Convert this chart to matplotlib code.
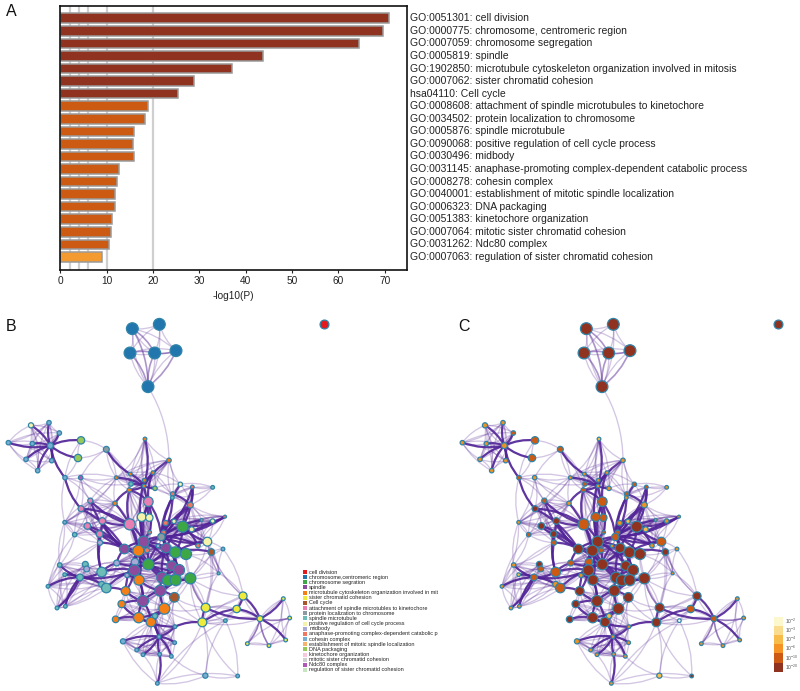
import numpy as np
import matplotlib
matplotlib.use("Agg")
import matplotlib.pyplot as plt
from matplotlib.path import Path
from matplotlib.collections import PathCollection
from matplotlib.patches import Rectangle

plt.rcParams['font.family'] = ['Liberation Sans', 'DejaVu Sans']
plt.rcParams['mathtext.default'] = 'regular'

# ---------- panel A data ----------
terms = ["GO:0051301: cell division", "GO:0000775: chromosome, centromeric region",
         "GO:0007059: chromosome segregation", "GO:0005819: spindle",
         "GO:1902850: microtubule cytoskeleton organization involved in mitosis",
         "GO:0007062: sister chromatid cohesion", "hsa04110: Cell cycle",
         "GO:0008608: attachment of spindle microtubules to kinetochore",
         "GO:0034502: protein localization to chromosome", "GO:0005876: spindle microtubule",
         "GO:0090068: positive regulation of cell cycle process", "GO:0030496: midbody",
         "GO:0031145: anaphase-promoting complex-dependent catabolic process",
         "GO:0008278: cohesin complex", "GO:0040001: establishment of mitotic spindle localization",
         "GO:0006323: DNA packaging", "GO:0051383: kinetochore organization",
         "GO:0007064: mitotic sister chromatid cohesion", "GO:0031262: Ndc80 complex",
         "GO:0007063: regulation of sister chromatid cohesion"]
log_p = [71.0, 69.6, 64.4, 43.8, 37.0, 28.8, 25.5, 18.9, 18.3, 16.0,
         15.7, 15.8, 12.7, 12.2, 11.8, 11.8, 11.2, 10.9, 10.6, 8.9]
bar_level = [5]*7 + [4]*12 + [3]
grid_at = [2, 4, 6, 10, 20]

# ---------- panel B / C legend data ----------
legend_names = ["cell division", "chromosome,centromeric region", "chromosome segration", "spindle",
                "microtubule cytoskeleton organization involved in mit", "sister chromatid cohesion",
                "Cell cycle", "attachment of spindle microtubles to kinetochore",
                "protein localization to chromosome", "spindle microtubule",
                "positive regulation of cell cycle process", "midbody",
                "anaphase-promoting complex-dependent catabolic p", "cohesin complex",
                "establishment of mitotic spindle localization", "DNA packaging",
                "kinetochore organization", "mitotic sister chromatid cohesion",
                "Ndc80 complex", "regulation of sister chromatid cohesion"]
group_colors = ['#e41a1c', '#2176ae', '#3ea745', '#8e4a9c', '#f57f17', '#eeeb3c', '#a8562a',
                '#e77fb3', '#8d9ba0', '#6ebcb8', '#f5f2ab', '#a9a9d8', '#f07860', '#77aed2',
                '#f7b26c', '#97c85a', '#f8c8dc', '#d0d0d0', '#b058b8', '#c7e5bf']
level_colors = {0: '#ffffff', 1: '#f9dc8e', 2: '#f7bc4a', 3: '#ef921f', 4: '#cc5a12', 5: '#8f3320'}
scale_labels = ['10$^{-2}$', '10$^{-3}$', '10$^{-4}$', '10$^{-6}$', '10$^{-10}$', '10$^{-20}$']
scale_colors = ['#fdf7cd', '#f9dc8e', '#f7bc4a', '#f59324', '#cc5a12', '#8f3320']

# ---------- network nodes (positions at 3x picture scale) ----------
upper_x = [397,478,390,464,528,444,93,147,178,25,97,151,78,155,113,243,234,319,195,242,
           435,507,391,459,349,433,393,432,465,388,541,577,638,518,517]
upper_y = [56,43,129,129,122,230,346,338,369,398,401,407,448,452,482,391,444,418,503,503,
           387,451,492,488,503,511,522,528,535,540,523,531,532,552,563]
upper_r = [16,16,16,16,16,16,7,6,6,6,6,8,6,6,6,10,10,8,6,6,5,6,5,5,5,5,6,5,6,6,6,5,5,6,5]
upper_group = [1,1,1,1,1,1,10,13,13,13,13,13,13,13,13,15,15,8,13,18,
               4,4,4,4,4,4,9,4,15,4,10,12,9,12,9]
upper_level = [5,5,5,5,5,5,3,3,4,3,3,3,3,3,3,4,4,4,4,3,2,3,3,3,3,3,4,3,3,4,4,4,3,4,3]

lower_x = [445,271,243,345,194,307,262,389,425,448,299,224,300,497,522,571,675,605,638,548,
           575,491,449,484,622,594,634,669,431,373,415,441,474,498,526,558,445,405,350,403,
           515,537,256,260,305,179,194,240,144,171,196,305,319,381,417,487,504,527,571,656,
           481,377,523,429,365,493,617,729,710,850,780,869,857,807,742,676,607,347,416,453,
           465,525,477,369,524,410,429,479,514,616,713,472]
lower_y = [65,62,86,70,127,123,138,133,111,113,162,164,188,129,124,75,110,120,123,140,
           148,157,157,171,185,197,216,207,185,207,212,211,198,204,217,222,253,246,249,271,
           257,270,253,267,276,255,284,292,319,384,379,313,324,286,300,293,301,300,295,280,
           332,333,352,363,372,386,383,348,387,356,416,414,480,497,491,422,427,418,413,426,
           408,440,470,484,488,510,524,523,529,587,588,610]
lower_r = [13,7,8,6,5,9,9,15,12,10,9,6,7,7,6,8,4,4,6,15,7,6,5,10,12,6,9,5,15,13,15,7,5,13,15,15,15,
           10,8,15,13,15,8,8,13,6,5,9,5,5,5,8,13,6,14,15,15,15,15,4,15,12,13,15,10,15,12,11,10,5,8,5,5,5,5,
           5,12,9,14,13,7,5,5,7,5,5,5,5,5,7,5,5]
lower_group = [7,7,7,4,13,7,7,7,10,10,7,9,11,12,10,12,12,12,10,2,10,12,12,8,10,12,6,13,3,3,4,12,11,3,2,2,2,
               11,11,3,3,3,9,11,9,9,9,9,9,9,9,9,9,11,4,3,2,2,2,9,3,4,6,3,4,4,5,5,5,5,5,5,5,5,5,
               9,5,4,4,4,9,13,13,13,13,13,13,13,13,13,13,13]
lower_level = [4,4,5,3,3,5,5,4,4,4,5,4,4,3,2,3,3,3,3,5,2,4,4,4,4,3,5,3,5,5,5,4,3,5,5,5,5,
               4,4,5,5,5,5,4,4,3,2,4,3,3,3,3,4,3,5,5,5,5,5,3,5,5,5,5,5,5,5,5,4,3,4,3,3,3,3,
               0,5,5,5,5,2,3,3,3,3,3,3,3,3,2,5,3]
upper_offset = 930
lower_offset = 1440
panel_c_shift = 1362
lone_x, lone_y, lone_r = [972], [972], [12]

# ---------- network edges ----------
light_groups = [
    [0,1,2,3,4,5], [6,7,8,9,10,11,12,13,14], [11,15,16,18], [15,17], [16,17], [5,21],
    [20,21,22,23,24,25,26,27,28,29], [17,22,24,29], [21,28,30,33,34,23],
    [30,31,32,33,34,50], [48,49,50,51,52,53,54,55,56,58,59,60],
    [35,42,43,44,57,63,65,66,27,29], [36,37,38,39,40,41,42,45,46,47],
    [63,64,65,66,67,68,69,70,71,72,73,74,58], [74,75,76,88,89,90,91,92,93,95,98],
    [77,78,79,80,81,82,83,84,85,86,87], [73,78,79,86,87,88,72],
    [96,98,99,100,112,113,114,115,95], [97,95,100,115,116,117],
    [116,117,118,119,120,121,122,123,115,114], [101,102,103,105,110,111],
    [104,105,106,107,108,109], [94,62,61,59,93,102], [124,125,126,111,110],
    [122,126], [123,124], [111,116], [18,19,37,39,38,36,24], [19,24,26,17],
    [46,39,80,83,47], [126,121,122,118], [70,61,59,93,94,101], [100,101,111,97,93],
]
mid_hubs = {
    5: [3,0,2,4],
    3: [0,4,2],
    105: [108,109,106],
    101: [93],
}
dark_hubs = {
    11: [6,7,8,9,10,12,13,14,15,16,18],
    18: [37], 17: [22],
    27: [20,21,22,23,24,25,26,28,29],
    29: [38,42,35],
    58: [33,34,30,31,50,51,53,54,55,59,60,52,48,49,56,35,65,63,68,69,70],
    54: [50,31,59,51,60],
    63: [35,42,64,65,68,69,71,74,72,75,57,43,66,25],
    71: [65,68,69,74,75,76,90,91,92,72,73,64,67],
    64: [36,37,40,41,45,47,73],
    65: [42,38,45,71,74,89,96,72],
    74: [79,82,87,88,89,96,98],
    90: [91,92,93,75,76,95,68],
    95: [98,100,97,76,92,89],
    98: [96,99,113,114,89],
    82: [80,81,83,84,85,79,86],
    79: [45,47,73],
    113: [112,99,114,100,116],
    117: [116,118,119,120,121,122,123,114,115],
    122: [126], 111: [116,101,103], 103: [102,105], 105: [104,107,102,101],
    68: [48,56,54,69,70,75,76],
    69: [54,70,75,76,61,59],
    89: [88,72],
    92: [93,76,75],
    42: [36,37,40],
    45: [40,41,47],
    35: [43,44,57,23,25],
    50: [33,31,48],
    96: [87],
    115: [114,100],
}

node_x = np.array(upper_x + lower_x, float)
node_y = np.array([y + upper_offset for y in upper_y] + [y + lower_offset for y in lower_y], float)
node_r = np.array(upper_r + lower_r, float)
node_group = upper_group + lower_group
node_level = upper_level + lower_level

light_edges = sorted({(a, b) for g in light_groups for i, a in enumerate(g) for b in g[i+1:]})
mid_edges = [(h, t) for h, ts in mid_hubs.items() for t in ts]
dark_edges = [(h, t) for h, ts in dark_hubs.items() for t in ts]


def edge_path(a, b, shift):
    xa, ya, xb, yb = node_x[a] + shift, node_y[a], node_x[b] + shift, node_y[b]
    bend = 0.14 if (a + b) % 2 else -0.14
    cx = (xa + xb) / 2 - (yb - ya) * bend
    cy = (ya + yb) / 2 + (xb - xa) * bend
    return Path([(xa, ya), (cx, cy), (xb, yb)], [Path.MOVETO, Path.CURVE3, Path.CURVE3])


fig = plt.figure(figsize=(8.0, 6.91), dpi=100)
net = fig.add_axes([0, 0, 1, 1])
net.set_xlim(0, 2400)
net.set_ylim(2073, 0)
net.axis('off')
PX = 0.265  # point per 3x unit


def draw_network(shift, colors, zo):
    for edges, col, lw, al, z in [(light_edges, '#5b2d98', 0.95, 0.27, zo),
                                  (mid_edges, '#5b2d98', 1.2, 0.5, zo),
                                  (dark_edges, '#512497', 1.6, 0.9, zo + 1)]:
        net.add_collection(PathCollection([edge_path(a, b, shift) for a, b in edges],
                                          facecolors='none', edgecolors=col, linewidths=lw,
                                          alpha=al, zorder=z), autolim=False)
    net.scatter(node_x + shift, node_y, s=(2 * node_r * PX) ** 2, c=colors,
                edgecolors='#2f84a8', linewidths=0.9, zorder=zo + 2)


draw_network(0, [group_colors[g] for g in node_group], 2)
draw_network(panel_c_shift, [level_colors[l] for l in node_level], 2)
lone_size = [(2 * r * PX) ** 2 for r in lone_r]
net.scatter(lone_x, lone_y, s=lone_size, c=group_colors[0], edgecolors='#2f84a8', linewidths=0.9, zorder=5)
net.scatter([x + panel_c_shift for x in lone_x], lone_y, s=lone_size, c=level_colors[5],
            edgecolors='#2f84a8', linewidths=0.9, zorder=5)

# panel letters
net.text(33, 33, 'A', fontsize=11.5, ha='center', va='center', color='#111111')
net.text(33, 978, 'B', fontsize=11.5, ha='center', va='center', color='#111111')
net.text(1393, 978, 'C', fontsize=11.5, ha='center', va='center', color='#111111')

# legend of panel B
for i, (name, col) in enumerate(zip(legend_names, group_colors)):
    yy = 1716 + i * 15.47
    net.add_patch(Rectangle((1000 - 90, yy - 6), 12, 12, fc=col, ec='none', zorder=6))
    net.text(1000 - 74 + 2, yy, name, fontsize=3.95, va='center', ha='left', color='#222222', zorder=6)

# colour scale of panel C
for i, (lab, col) in enumerate(zip(scale_labels, scale_colors)):
    yy = 1850 + i * 27.5
    net.add_patch(Rectangle((2322, yy), 28, 27.5, fc=col, ec='none', zorder=6))
    net.text(2355, yy + 14, lab, fontsize=3.6, va='center', ha='left', color='#555555', zorder=6)

# ---------- panel A ----------
ax = fig.add_axes([60.3 / 800, 1 - 269.5 / 691, (406.7 - 60.3) / 800, (269.5 - 5.7) / 691])
ax.patch.set_alpha(0)
pos = np.arange(len(terms))
for g in grid_at:
    ax.axvline(g, color='#cfcfcf', lw=1.6, zorder=1)
ax.barh(pos, log_p, height=0.76, color=[level_colors[l] if l != 3 else '#f39a30' for l in bar_level],
        edgecolor='#9a9a9a', linewidth=1.1, zorder=2)
ax.set_xlim(0, 74.75)
ax.set_ylim(20, -1)
ax.set_yticks([])
ax.set_xticks(range(0, 71, 10))
ax.tick_params(axis='x', labelsize=7.3, length=2, width=0.8, pad=2.5, colors='#222222')
ax.set_xlabel('-log10(P)', fontsize=7.3, labelpad=4, color='#222222')
for s in ax.spines.values():
    s.set_linewidth(1.2)
    s.set_color('#111111')
for y, t in zip(pos, terms):
    ax.text(75.4, y, t, fontsize=7.5, va='center', ha='left', color='#222222', clip_on=False)

fig.savefig('out.png', dpi=100)
